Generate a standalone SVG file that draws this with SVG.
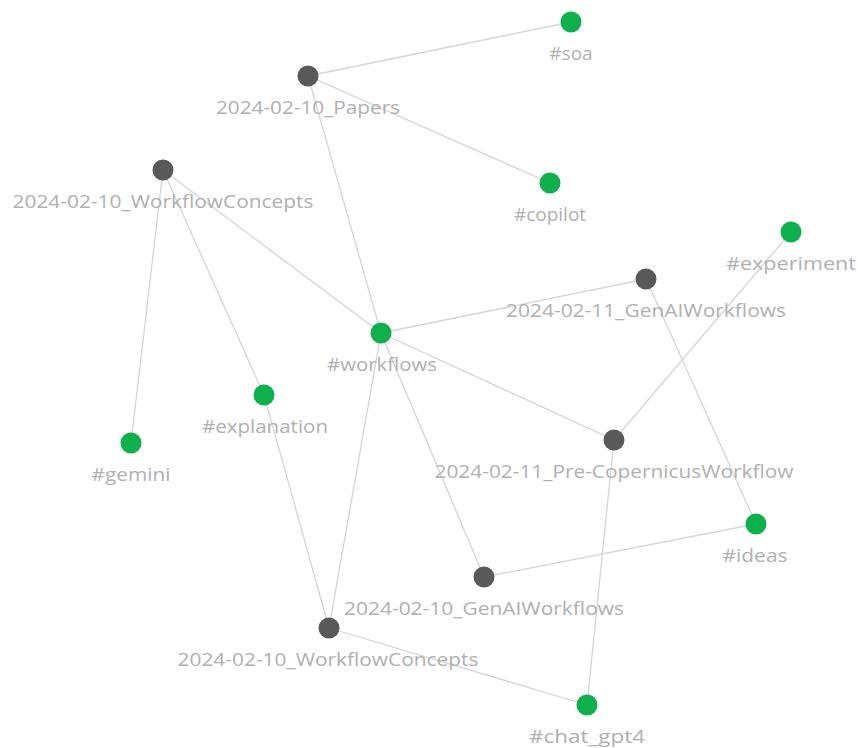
<svg xmlns="http://www.w3.org/2000/svg" width="860" height="748" viewBox="0 0 860 748">
<style>
.e{stroke:#d3d3dc;stroke-width:1.3;fill:none}
.t{fill:#b0b0b0;font-family:"Open Sans","Noto Sans",sans-serif;font-size:19px;text-anchor:middle}
.f{fill:#595959}
.g{fill:#0db04b}
</style>
<rect width="860" height="748" fill="#ffffff"/>
<g id="connectors">
<line class="e" x1="308" y1="76" x2="571" y2="22"/>
<line class="e" x1="308" y1="76" x2="550" y2="183"/>
<line class="e" x1="308" y1="76" x2="381" y2="333"/>
<line class="e" x1="163" y1="170" x2="381" y2="333"/>
<line class="e" x1="163" y1="170" x2="264" y2="395"/>
<line class="e" x1="163" y1="170" x2="131" y2="443"/>
<line class="e" x1="381" y1="333" x2="646" y2="279"/>
<line class="e" x1="381" y1="333" x2="614" y2="440"/>
<line class="e" x1="381" y1="333" x2="484" y2="577"/>
<line class="e" x1="381" y1="333" x2="329" y2="628"/>
<line class="e" x1="264" y1="395" x2="329" y2="628"/>
<line class="e" x1="646" y1="279" x2="756" y2="524"/>
<line class="e" x1="614" y1="440" x2="791" y2="232"/>
<line class="e" x1="614" y1="440" x2="587" y2="705"/>
<line class="e" x1="484" y1="577" x2="756" y2="524"/>
<line class="e" x1="329" y1="628" x2="587" y2="705"/>
</g>
<g id="n-papers"><circle class="f" cx="308" cy="76" r="10.5"/><text class="t" x="308" y="114" textLength="184" lengthAdjust="spacingAndGlyphs">2024-02-10_Papers</text></g>
<g id="n-soa"><circle class="g" cx="571" cy="22" r="10.5"/><text class="t" x="571" y="60">#soa</text></g>
<g id="n-copilot"><circle class="g" cx="550" cy="183" r="10.5"/><text class="t" x="550" y="221">#copilot</text></g>
<g id="n-wfc1"><circle class="f" cx="163" cy="170" r="10.5"/><text class="t" x="163" y="208" textLength="301" lengthAdjust="spacingAndGlyphs">2024-02-10_WorkflowConcepts</text></g>
<g id="n-experiment"><circle class="g" cx="791" cy="232" r="10.5"/><text class="t" x="791" y="270" textLength="130" lengthAdjust="spacingAndGlyphs">#experiment</text></g>
<g id="n-genai11"><circle class="f" cx="646" cy="279" r="10.5"/><text class="t" x="646" y="317" textLength="280" lengthAdjust="spacingAndGlyphs">2024-02-11_GenAIWorkflows</text></g>
<g id="n-workflows"><circle class="g" cx="381" cy="333" r="10.5"/><text class="t" x="382" y="371" textLength="110" lengthAdjust="spacingAndGlyphs">#workflows</text></g>
<g id="n-explanation"><circle class="g" cx="264" cy="395" r="10.5"/><text class="t" x="265" y="433" textLength="126" lengthAdjust="spacingAndGlyphs">#explanation</text></g>
<g id="n-gemini"><circle class="g" cx="131" cy="443" r="10.5"/><text class="t" x="131" y="481" textLength="79" lengthAdjust="spacingAndGlyphs">#gemini</text></g>
<g id="n-precop"><circle class="f" cx="614" cy="440" r="10.5"/><text class="t" x="614" y="478" textLength="359" lengthAdjust="spacingAndGlyphs">2024-02-11_Pre-CopernicusWorkflow</text></g>
<g id="n-ideas"><circle class="g" cx="756" cy="524" r="10.5"/><text class="t" x="755" y="562" textLength="65" lengthAdjust="spacingAndGlyphs">#ideas</text></g>
<g id="n-genai10"><circle class="f" cx="484" cy="577" r="10.5"/><text class="t" x="484" y="615" textLength="280" lengthAdjust="spacingAndGlyphs">2024-02-10_GenAIWorkflows</text></g>
<g id="n-wfc2"><circle class="f" cx="329" cy="628" r="10.5"/><text class="t" x="328" y="666" textLength="301" lengthAdjust="spacingAndGlyphs">2024-02-10_WorkflowConcepts</text></g>
<g id="n-chat"><circle class="g" cx="587" cy="705" r="10.5"/><text class="t" x="587" y="743" textLength="116" lengthAdjust="spacingAndGlyphs">#chat_gpt4</text></g>
</svg>
